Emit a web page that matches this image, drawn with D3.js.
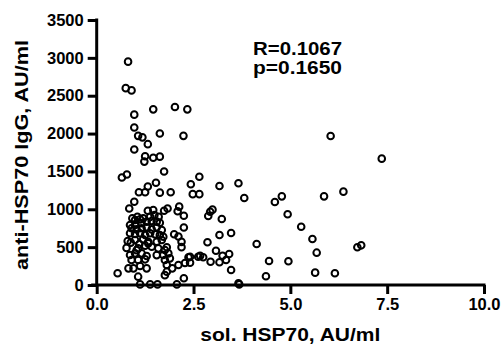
<!DOCTYPE html>
<html><head><meta charset="utf-8">
<script src="https://cdn.jsdelivr.net/npm/d3@7"></script>
<style>body{margin:0;background:#fff}svg{display:block}text{font-family:"Liberation Sans",Arial,sans-serif;font-weight:bold;fill:#000}</style>
</head><body>
<script>
const xTicks = [0, 2.5, 5, 7.5, 10];
const yTicks = [0, 500, 1000, 1500, 2000, 2500, 3000, 3500];
const xLabel = "sol. HSP70, AU/ml";
const yLabel = "anti-HSP70 IgG, AU/ml";
const statLines = ["R=0.1067", "p=0.1650"];
const solHSP70 = [0.81,0.75,0.90,0.97,1.46,2.02,2.34,0.97,1.07,1.18,1.63,2.24,1.32,0.97,1.25,1.46,1.63,1.23,1.74,0.65,0.78,1.32,1.53,2.65,2.43,1.09,1.25,1.63,1.91,2.48,2.65,0.97,0.84,1.32,1.46,1.49,1.74,1.83,2.13,2.09,2.25,2.25,2.00,2.11,2.19,2.19,0.77,1.03,1.33,1.55,2.67,2.37,2.28,2.11,1.95,1.76,0.54,1.07,0.82,1.29,2.25,
1.12,1.38,1.57,2.07,3.68,
6.04,3.17,3.66,3.81,4.60,4.78,5.87,2.93,2.99,2.88,3.23,4.93,5.28,3.17,3.47,2.86,4.13,5.57,5.68,2.41,2.41,2.62,2.75,2.94,3.08,3.17,3.25,3.34,3.42,3.47,4.45,4.95,4.37,3.66,5.64,6.15,
7.36,6.37,6.73,6.83,
0.99,1.12,0.86,0.99,1.16,1.29,1.42,1.55,1.63,0.90,1.03,1.16,1.29,1.42,1.55,1.68,0.86,0.99,1.12,1.25,1.38,1.51,1.63,1.72,0.99,1.20,1.33,1.55,1.68,1.07,1.42,1.59,1.76,1.81,0.86,0.99,1.16,1.29,1.72,1.85,0.90,1.07,1.25,1.76,1.89,0.95,1.12,1.81,1.81,
0.80,0.88,1.10,1.25,0.92,1.05,1.20,1.38,1.60];
const antiHSP70 = [2950,2600,2570,2250,2320,2350,2320,2080,1970,1950,2000,1970,1860,1790,1700,1680,1695,1630,1500,1420,1460,1300,1350,1430,1330,1225,1225,1220,1225,1200,1200,1100,1010,980,990,925,980,1010,1035,975,915,760,670,640,570,500,490,460,550,395,385,365,290,265,220,130,155,110,220,220,90,
8,8,8,8,8,
1968,1308,1343,1149,1096,1171,1171,968,995,911,872,934,770,660,687,564,541,607,427,374,295,374,366,308,453,300,387,330,410,198,317,313,115,22,163,155,
1669,1233,498,524,
859,867,793,793,815,837,845,837,823,749,735,749,762,735,762,727,683,674,683,661,683,669,661,638,594,603,572,572,594,484,506,484,462,498,396,418,418,383,396,418,330,330,339,330,352,220,251,264,176,
580,560,540,520,880,900,880,900,900];

const W = 504, H = 346;
const svg = d3.select("body").append("svg").attr("width", W).attr("height", H);
const x = d3.scaleLinear().domain([0, 10]).range([96.7, 484]);
const y = d3.scaleLinear().domain([0, 3500]).range([285, 20]);

const gx = svg.append("g").attr("transform", "translate(0,285)")
  .call(d3.axisBottom(x).tickValues(xTicks).tickFormat(d3.format(".1f")).tickSize(9).tickPadding(4));
const gy = svg.append("g").attr("transform", "translate(96.7,0)")
  .call(d3.axisLeft(y).tickValues(yTicks).tickFormat(d3.format("d")).tickSize(9).tickPadding(4));
[gx, gy].forEach(g => {
  g.select(".domain").attr("stroke", "#000").attr("stroke-width", 3).attr("stroke-linecap", "square");
  g.selectAll(".tick line").attr("stroke", "#000").attr("stroke-width", 3);
  g.selectAll(".tick text").style("font-size", "16.5px").style("font-family", '"Liberation Sans",Arial,sans-serif').style("font-weight", "bold").attr("fill", "#000");
});
gx.select(".domain").attr("d", "M" + (x(0) - 4) + ",0H" + x(10));
gy.select(".domain").attr("d", "M0," + y(3500) + "V" + y(0));

svg.append("g").selectAll("circle").data(solHSP70.map((v, i) => [v, antiHSP70[i]])).join("circle")
  .attr("cx", d => x(d[0])).attr("cy", d => y(d[1])).attr("r", 3.3)
  .attr("fill", "none").attr("stroke", "#000").attr("stroke-width", 2);

svg.append("text").attr("x", (x(0) + x(10)) / 2).attr("y", 341).attr("text-anchor", "middle")
  .style("font-size", "18px").attr("textLength", 180).attr("lengthAdjust", "spacingAndGlyphs").text(xLabel);
svg.append("text").attr("transform", "translate(28,155) rotate(-90)").attr("text-anchor", "middle")
  .style("font-size", "18px").attr("textLength", 230).attr("lengthAdjust", "spacingAndGlyphs").text(yLabel);
svg.append("g").selectAll("text").data(statLines).join("text")
  .attr("x", 253).attr("y", (d, i) => 55 + i * 19).style("font-size", "19px")
  .attr("textLength", 89).attr("lengthAdjust", "spacingAndGlyphs").text(d => d);
</script>
</body></html>
